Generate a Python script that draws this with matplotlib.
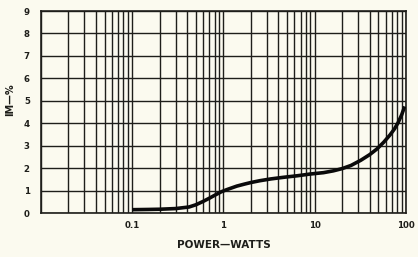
import numpy as np
import matplotlib
matplotlib.use("Agg")
import matplotlib.pyplot as plt
from matplotlib.ticker import FixedLocator, NullLocator

# curve (power in watts, IM distortion in %)
power = [0.1, 0.15, 0.2, 0.3, 0.42, 0.5, 0.6, 0.7, 0.8, 0.95, 1.1, 1.4, 1.7, 2.0, 2.5,
         3.3, 4.5, 6.4, 9, 12.5, 16, 20, 25, 32, 40, 48, 57, 67, 75, 82, 90, 97]
im_pct = [0.15, 0.16, 0.17, 0.2, 0.27, 0.37, 0.52, 0.66, 0.79, 0.95, 1.05, 1.2, 1.29,
          1.36, 1.44, 1.52, 1.59, 1.66, 1.74, 1.8, 1.88, 1.98, 2.12, 2.35, 2.6, 2.85,
          3.15, 3.48, 3.75, 4.02, 4.38, 4.75]

x_ticks = [0.1, 1, 10, 100]
x_tick_labels = ["0.1", "1", "10", "100"]
y_ticks = list(range(0, 10))

bg = "#fbfaef"
ink = "#1e1e1a"

fig = plt.figure(figsize=(4.18, 2.57), dpi=100, facecolor=bg)
ax = fig.add_axes([0.098, 0.171, 0.873, 0.786], facecolor=bg)

ax.set_xscale("log")
ax.set_xlim(0.01, 100)
ax.set_ylim(0, 9)

# log-paper grid: every 1..9 of each decade
grid_x = [m * 10.0 ** e for e in range(-2, 2) for m in range(1, 10)] + [100]
for gx in grid_x:
    ax.axvline(gx, color=ink, lw=1.0, zorder=1)
for gy in y_ticks:
    ax.axhline(gy, color=ink, lw=1.0, zorder=1)

ax.plot(power, im_pct, color="#0a0a0a", lw=2.6, solid_capstyle="butt",
        solid_joinstyle="round", zorder=3)

ax.xaxis.set_major_locator(FixedLocator(x_ticks))
ax.xaxis.set_minor_locator(NullLocator())
ax.set_xticklabels(x_tick_labels)
ax.set_yticks(y_ticks)
ax.tick_params(length=0, labelsize=6.2, colors=ink)
ax.tick_params(axis="x", pad=6)
ax.tick_params(axis="y", pad=8)
for lab in ax.get_xticklabels() + ax.get_yticklabels():
    lab.set_fontweight("bold")

for s in ax.spines.values():
    s.set_color(ink)
    s.set_linewidth(1.2)

ax.set_xlabel("POWER\u2014WATTS", fontsize=7.5, fontweight="bold", color=ink, labelpad=7)
ax.set_ylabel("IM\u2014%", fontsize=7, fontweight="bold", color=ink)
ax.yaxis.set_label_coords(-0.07, 0.56)

fig.savefig("out.png", dpi=100, facecolor=bg)
